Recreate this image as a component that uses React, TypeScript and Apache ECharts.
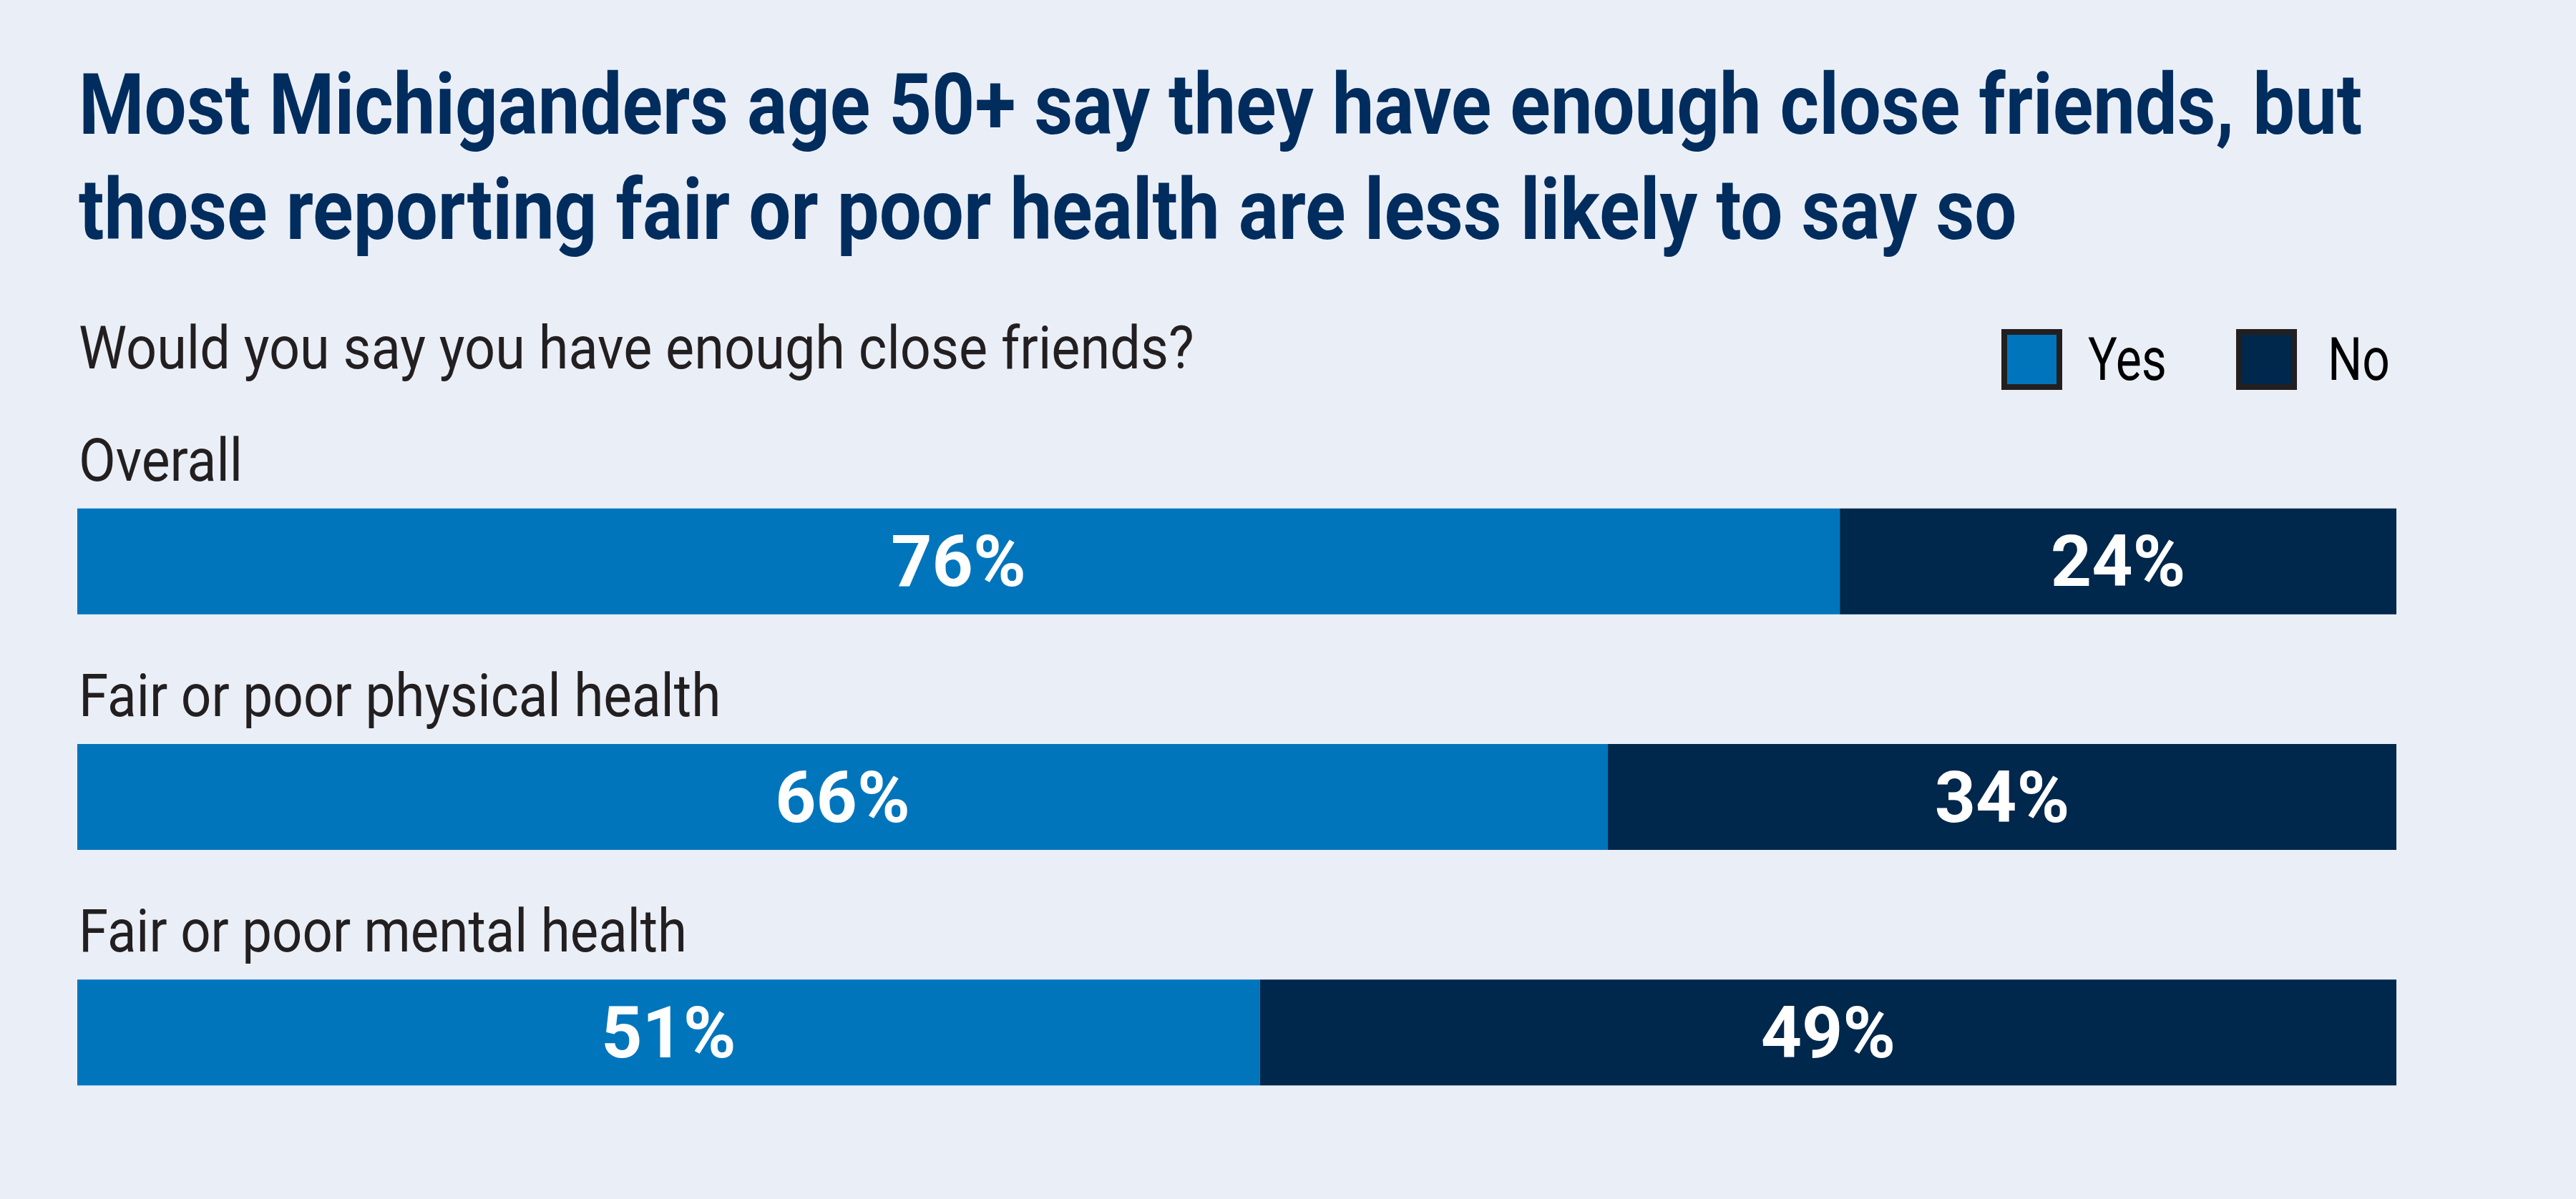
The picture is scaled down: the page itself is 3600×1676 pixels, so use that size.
import React, { useEffect, useRef } from 'react';
import * as echarts from 'echarts';

const titleLines = [
  'Most Michiganders age 50+ say they have enough close friends, but',
  'those reporting fair or poor health are less likely to say so',
];
const subtitle = 'Would you say you have enough close friends?';
const categories = ['Overall', 'Fair or poor physical health', 'Fair or poor mental health'];
const seriesNames = ['Yes', 'No'];
const yesValues = [76, 66, 51];
const noValues = [24, 34, 49];

const BG = '#EAEFF7';
const YES_COLOR = '#0075BC';
const NO_COLOR = '#00274C';
const TITLE_COLOR = '#002C5E';
const TEXT_COLOR = '#231F20';
const FONT = 'Roboto';

// target ink widths of the condensed reference texts
const titleWidths = [3191, 2709];
const subtitleWidth = 1559;
const categoryWidths = [229, 898, 850];
const legendTextWidths = [110, 87];

export default function App() {
  const ref = useRef<HTMLDivElement>(null);

  useEffect(() => {
    document.body.style.margin = '0';
    const chart = echarts.init(ref.current!, null, { renderer: 'svg', width: 3600, height: 1676 });
    const ctx = document.createElement('canvas').getContext('2d')!;
    const fit = (text: string, size: number, weight: string | number, target: number) => {
      ctx.font = `${weight} ${size}px ${FONT}`;
      const w = ctx.measureText(text).width;
      return w > 0 ? target / w : 1;
    };

    const labelStyle = {
      show: true,
      position: 'inside',
      formatter: '{c}%',
      color: '#FFFFFF',
      fontSize: 100,
      fontWeight: 'bold',
      fontFamily: FONT,
    };

    chart.setOption({
      animation: false,
      backgroundColor: BG,
      grid: { left: 108, right: 251, top: 620, bottom: 68 },
      xAxis: { type: 'value', min: 0, max: 100, show: false },
      yAxis: { type: 'category', data: categories, inverse: true, show: false },
      series: [
        {
          name: seriesNames[0],
          type: 'bar',
          stack: 'total',
          data: yesValues,
          barWidth: 148,
          itemStyle: { color: YES_COLOR },
          label: labelStyle,
        },
        {
          name: seriesNames[1],
          type: 'bar',
          stack: 'total',
          data: noValues,
          barWidth: 148,
          itemStyle: { color: NO_COLOR },
          label: labelStyle,
        },
      ],
    });

    const graphics: any[] = [];
    const TITLE_SIZE = 118;
    const TEXT_SIZE = 84;
    const titleMid = [147, 293];
    titleLines.forEach((t, i) => {
      graphics.push({
        type: 'text',
        x: 110,
        y: titleMid[i],
        scaleX: fit(t, TITLE_SIZE, 'bold', titleWidths[i]),
        style: {
          text: t,
          fontSize: TITLE_SIZE,
          fontWeight: 'bold',
          fontFamily: FONT,
          fill: TITLE_COLOR,
          align: 'left',
          verticalAlign: 'middle',
        },
      });
    });
    graphics.push({
      type: 'text',
      x: 110,
      y: 487,
      scaleX: fit(subtitle, TEXT_SIZE, 'normal', subtitleWidth),
      style: {
        text: subtitle,
        fontSize: TEXT_SIZE,
        fontFamily: FONT,
        fill: TEXT_COLOR,
        align: 'left',
        verticalAlign: 'middle',
      },
    });

    // legend
    const legendBoxX = [2797, 3125];
    const legendTextX = [2918, 3253];
    const legendColors = [YES_COLOR, NO_COLOR];
    seriesNames.forEach((n, i) => {
      graphics.push({
        type: 'rect',
        shape: { x: legendBoxX[i] + 4, y: 464, width: 77, height: 77 },
        style: { fill: legendColors[i], stroke: '#231F20', lineWidth: 8 },
      });
      graphics.push({
        type: 'text',
        x: legendTextX[i],
        y: 502,
        scaleX: fit(n, TEXT_SIZE, 'normal', legendTextWidths[i]),
        style: {
          text: n,
          fontSize: TEXT_SIZE,
          fontFamily: FONT,
          fill: '#000000',
          align: 'left',
          verticalAlign: 'middle',
        },
      });
    });

    // category labels above each bar, placed through the category axis
    categories.forEach((c, i) => {
      const cy = chart.convertToPixel({ yAxisIndex: 0 }, c) as number;
      graphics.push({
        type: 'text',
        x: 110,
        y: cy - 142,
        scaleX: fit(c, TEXT_SIZE, 'normal', categoryWidths[i]),
        style: {
          text: c,
          fontSize: TEXT_SIZE,
          fontFamily: FONT,
          fill: TEXT_COLOR,
          align: 'left',
          verticalAlign: 'middle',
        },
      });
    });

    chart.setOption({ graphic: graphics });

    return () => chart.dispose();
  }, []);

  return (
    <div
      ref={ref}
      style={{ position: 'fixed', left: 0, top: 0, width: 3600, height: 1676 }}
    />
  );
}
